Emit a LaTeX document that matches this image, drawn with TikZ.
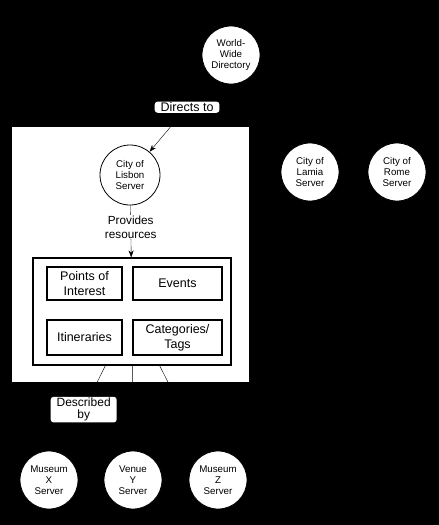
\documentclass[tikz,border=0pt]{standalone}
\usepackage{fontspec}
\setmainfont{Liberation Sans}
\usetikzlibrary{arrows.meta}

\tikzset{
  server/.style={circle,draw=black,line width=0.8pt,fill=white,minimum size=58pt,
    inner sep=0pt,align=center,font=\fontsize{9.75}{11}\selectfont},
  resbox/.style={draw=black,line width=1.2pt,fill=white,align=center,
    inner sep=0pt,font=\fontsize{12.5}{15}\selectfont},
  tag/.style={fill=white,rounded corners=3pt,align=center,inner xsep=6pt,inner ysep=1pt,
    font=\fontsize{12.5}{12.5}\selectfont},
}

\begin{document}
\begin{tikzpicture}[x=1pt,y=-1pt]
  \fill[black] (0,0) rectangle (439,525);
  \fill[white] (12,127) rectangle (249,382);
  % servers
  \node[server] (wwd) at (231,55) {World-\\Wide\\Directory};
  \node[server,minimum size=60pt] (lisbon) at (130,175) {City of\\Lisbon\\Server};
  \node[server] (lamia) at (310,172) {City of\\Lamia\\Server};
  \node[server] (rome) at (397,172) {City of\\Rome\\Server};
  \node[server] (musx) at (49,480) {Museum\\X\\Server};
  \node[server] (venuey) at (133,480) {Venue\\Y\\Server};
  \node[server] (musz) at (218,480) {Museum\\Z\\Server};
  % resources
  \node[resbox,minimum width=198pt,minimum height=107pt] (res) at (132,311.5) {};
  \node[resbox,minimum width=75pt,minimum height=33pt] (poi) at (84.5,283.5) {Points of\\Interest};
  \node[resbox,minimum width=89pt,minimum height=33pt] (events) at (177.5,283.5) {Events};
  \node[resbox,minimum width=75pt,minimum height=35pt] (itin) at (84.5,337.5) {Itineraries};
  \node[resbox,minimum width=89pt,minimum height=35pt] (cats) at (177.5,337.5) {Categories/\\Tags};
  % links
  \draw[-{Stealth[length=7pt,width=5pt]}] (wwd) -- node[tag,pos=0.4] {Directs to} (lisbon);
  \draw[-{Stealth[length=7pt,width=5pt]}] (lisbon) -- node[fill=white,align=center,inner sep=1pt,
    font=\fontsize{11.75}{13.5}\selectfont,pos=0.42] {Provides\\resources} (res);
  \draw (res) -- node[tag,pos=0.5,font=\fontsize{12}{12.5}\selectfont] {Described\\by} (musx);
  \draw (res) -- (venuey);
  \draw (res) -- (musz);
\end{tikzpicture}
\end{document}
